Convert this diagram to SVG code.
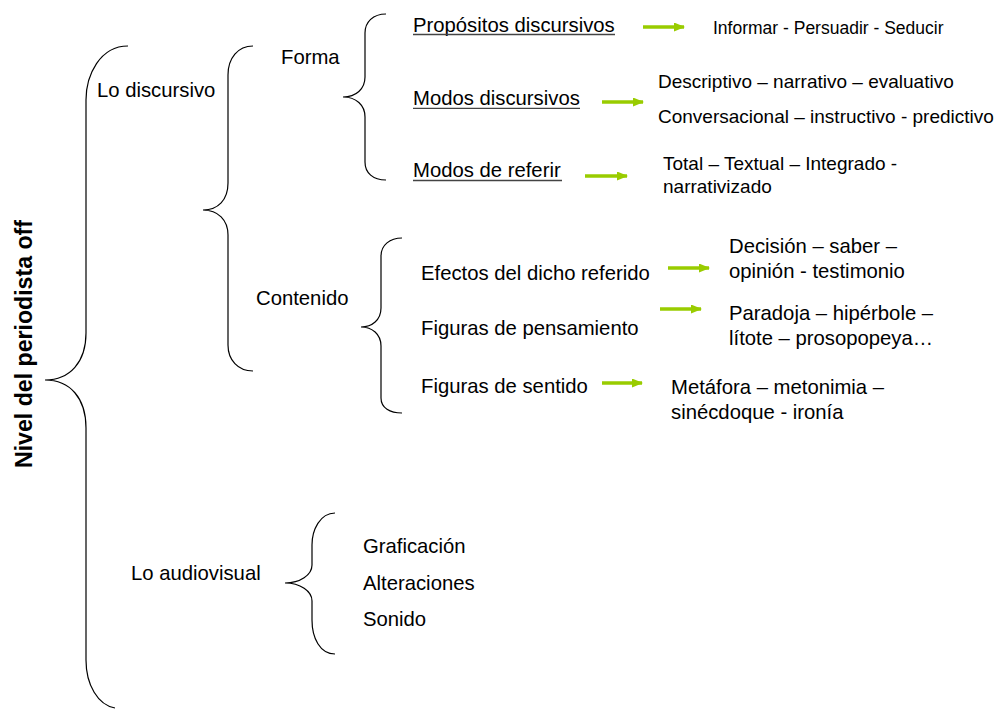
<svg xmlns="http://www.w3.org/2000/svg" width="1000" height="709" viewBox="0 0 1000 709">
<style>
text{font-family:"Liberation Sans",Arial,sans-serif;fill:#000;}
.t{font-size:20.3px;}
.s{font-size:19px;}
.ul{stroke:#444;stroke-width:1.3;}
.brace{fill:none;stroke:#000;stroke-width:1.2;}
.arr{stroke:#99CC00;stroke-width:3.5;fill:none;marker-end:url(#ah);}
</style>
<defs>
<marker id="ah" markerUnits="userSpaceOnUse" markerWidth="11" markerHeight="9" refX="10" refY="4.5" orient="auto">
<path d="M0,0 L11,4.5 L0,9 z" fill="#99CC00"/>
</marker>
</defs>
<rect width="1000" height="709" fill="#fff"/>

<g id="root">
<path class="brace" d="M128,46 C100,46 86,75 86,100 L86,333 C86,362 70,380 45,380 C70,380 86,398 86,428 L86,660 C86,685 98,705 115,708"/>
<text transform="translate(32,344) rotate(-90)" text-anchor="middle" font-weight="bold" font-size="24" textLength="248" lengthAdjust="spacingAndGlyphs">Nivel del periodista off</text>
</g>

<g id="lo-discursivo">
<text class="t" x="97" y="97">Lo discursivo</text>
<path class="brace" d="M253,46 C238,46 228,58 228,75 L228,183 C228,200 218,210 203,210 C218,210 228,220 228,235 L228,345 C228,360 238,371 253,371"/>
</g>

<g id="forma">
<text class="t" x="281" y="64">Forma</text>
<path class="brace" d="M386,14 C373,14 365,22 365,33 L365,77 C365,89 356,97 343,97 C356,97 365,105 365,117 L365,162 C365,173 373,180 386,180"/>
</g>

<g id="propositos">
<text class="t" x="413" y="31.5">Propósitos discursivos</text>
<line class="ul" x1="413" y1="34.5" x2="615" y2="34.5"/>
</g>
<g id="propositos-val">
<text x="713" y="34" font-size="17.5">Informar - Persuadir - Seducir</text>
</g>

<g id="modos-discursivos">
<text class="t" x="413" y="105">Modos discursivos</text>
<line class="ul" x1="413" y1="108.3" x2="580" y2="108.3"/>
</g>
<g id="modos-discursivos-val">
<text class="s" x="658" y="88">Descriptivo – narrativo – evaluativo</text>
<text class="s" x="658" y="123">Conversacional – instructivo - predictivo</text>
</g>

<g id="modos-referir">
<text class="t" x="413" y="177">Modos de referir</text>
<line class="ul" x1="413" y1="180.5" x2="562" y2="180.5"/>
</g>
<g id="modos-referir-val">
<text class="s" x="663" y="170">Total – Textual – Integrado -</text>
<text class="s" x="663" y="193">narrativizado</text>
</g>

<g id="contenido">
<text class="t" x="256" y="305">Contenido</text>
<path class="brace" d="M402,238 C390,238 381,245 381,256 L381,308 C381,320 372,327 361,327 C372,327 381,334 381,346 L381,398 C381,408 390,413 402,413"/>
</g>

<g id="efectos">
<text class="t" x="421" y="280">Efectos del dicho referido</text>
</g>
<g id="efectos-val">
<text class="t" x="729" y="253">Decisión – saber –</text>
<text class="t" x="729" y="278">opinión - testimonio</text>
</g>

<g id="figuras-pensamiento">
<text class="t" x="421" y="335">Figuras de pensamiento</text>
</g>
<g id="figuras-pensamiento-val">
<text class="t" x="729" y="320">Paradoja – hipérbole –</text>
<text class="t" x="729" y="345">lítote – prosopopeya…</text>
</g>

<g id="figuras-sentido">
<text class="t" x="421" y="393">Figuras de sentido</text>
</g>
<g id="figuras-sentido-val">
<text class="t" x="671" y="394">Metáfora – metonimia –</text>
<text class="t" x="671" y="419">sinécdoque - ironía</text>
</g>

<g id="lo-audiovisual">
<text class="t" x="131" y="580">Lo audiovisual</text>
<path class="brace" d="M335,513 C320,513 312,530 312,545 L312,565 C312,575 300,583 285,583 C300,583 312,591 312,601 L312,620 C312,638 320,654 335,654"/>
</g>
<g id="graficacion"><text class="t" x="363" y="553">Graficación</text></g>
<g id="alteraciones"><text class="t" x="363" y="590">Alteraciones</text></g>
<g id="sonido"><text class="t" x="363" y="626">Sonido</text></g>

<g id="connectors">
<line class="arr" x1="643" y1="27" x2="684" y2="27"/>
<line class="arr" x1="602" y1="102" x2="643" y2="102"/>
<line class="arr" x1="585" y1="176" x2="627" y2="176"/>
<line class="arr" x1="668" y1="268" x2="709" y2="268"/>
<line class="arr" x1="660" y1="309" x2="701" y2="309"/>
<line class="arr" x1="602" y1="383" x2="642" y2="383"/>
</g>
</svg>
